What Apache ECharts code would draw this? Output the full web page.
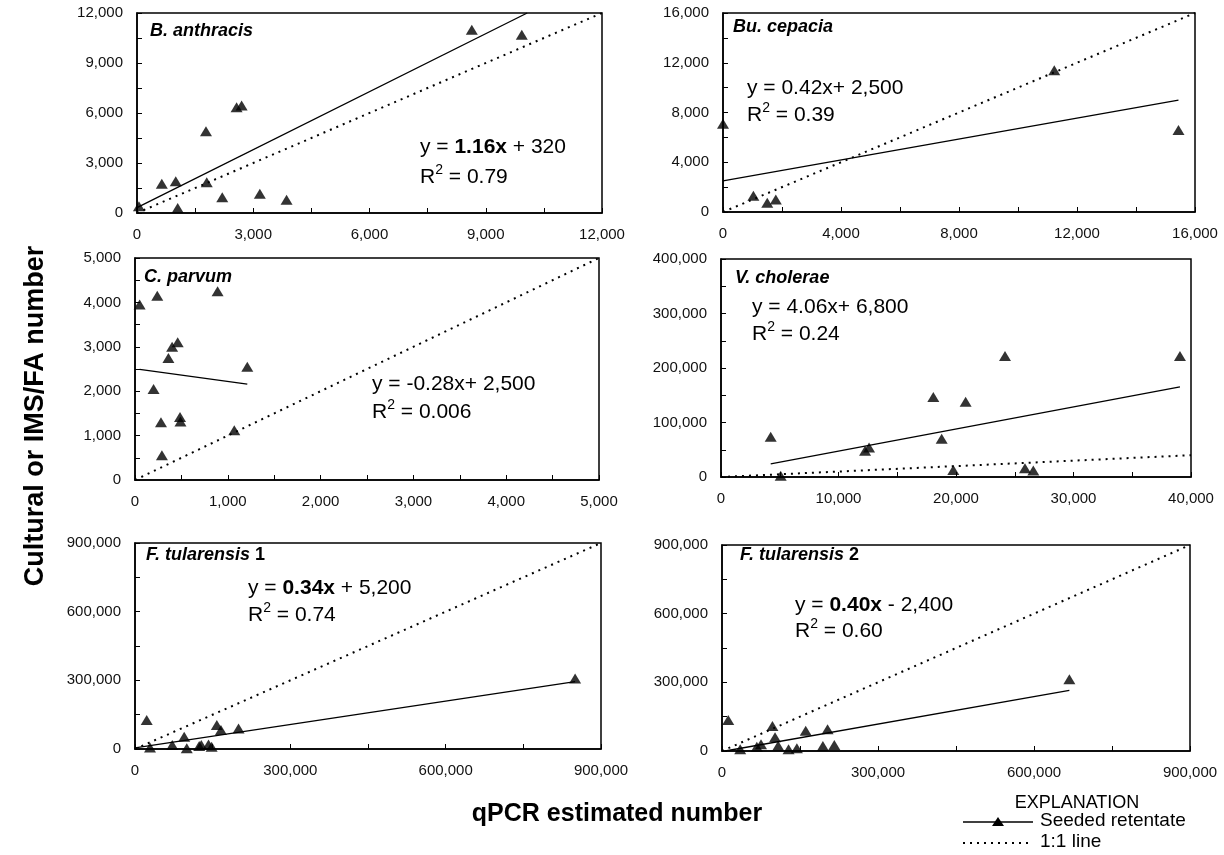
<!DOCTYPE html>
<html><head><meta charset="utf-8">
<script src="https://cdn.jsdelivr.net/npm/echarts@6/dist/echarts.min.js"></script>
<style>html,body{margin:0;padding:0;background:#fff}#c{width:1224px;height:855px}</style>
</head><body><div id="c"></div>
<script>
// ---- data ----
const anthracisPts = [[50,400],[640,1750],[1000,1900],[1050,300],[1780,4900],[1800,1850],[2200,950],[2570,6350],[2700,6450],[3170,1150],[3860,800],[8640,11000],[9930,10700]];
const anthracisFit = [[0,320],[10070,12000]];
const cepaciaPts = [[0,7100],[1030,1300],[1500,750],[1790,1000],[11230,11400],[15440,6600]];
const cepaciaFit = [[0,2500],[15440,8990]];
const parvumPts = [[50,3950],[240,4150],[890,4250],[460,3100],[400,3000],[360,2750],[1210,2550],[200,2050],[280,1300],[485,1420],[490,1320],[1070,1120],[290,560]];
const parvumFit = [[50,2490],[1210,2160]];
const choleraePts = [[4230,74000],[5080,2400],[12260,48000],[12600,54000],[18070,147000],[18780,70000],[19770,13000],[20820,138000],[24170,222000],[25870,16000],[26580,12000],[39060,222000]];
const choleraeFit = [[4230,24000],[39060,165400]];
const tul1Pts = [[22600,127000],[29000,7000],[72000,18000],[95000,54000],[100000,3000],[124000,13000],[128000,17000],[142000,20000],[148000,10000],[158000,105000],[166000,83000],[200000,90000],[850000,308000]];
const tul1Fit = [[0,5200],[850000,294200]];
const tul2Pts = [[12000,135000],[35000,8000],[67000,19000],[75000,30000],[97000,109000],[102000,60000],[108000,23000],[128000,8000],[144000,12000],[161000,89000],[194000,22000],[203000,95000],[216000,26000],[668000,313000]];
const tul2Fit = [[6000,0],[668000,264800]];

const panelNames = ['B. anthracis','Bu. cepacia','C. parvum','V. cholerae','F. tularensis','F. tularensis'];
const panelSuffix = ['','','','',' 1',' 2'];
const xMax  = [12000, 16000, 5000, 40000, 900000, 900000];
const xStep = [3000, 4000, 1000, 10000, 300000, 300000];
const yMax  = [12000, 16000, 5000, 400000, 900000, 900000];
const yStep = [3000, 4000, 1000, 100000, 300000, 300000];
const oneToOneEnd = [12000, 16000, 5000, 40000, 900000, 900000];
const eqSlope = ['1.16x','0.42x','-0.28x','4.06x','0.34x','0.40x'];
const eqSlopeBold = [true,false,false,false,true,true];
const eqRest = [' + 320','+ 2,500','+ 2,500','+ 6,800',' + 5,200',' - 2,400'];
const eqR2 = ['0.79','0.39','0.006','0.24','0.74','0.60'];

const allPts = [anthracisPts, cepaciaPts, parvumPts, choleraePts, tul1Pts, tul2Pts];
const allFits = [anthracisFit, cepaciaFit, parvumFit, choleraeFit, tul1Fit, tul2Fit];

// ---- layout ----
const FONT = '"Liberation Sans", Arial, sans-serif';
const grids = [
  {left:137, top:13, width:465, height:200},
  {left:723, top:13, width:472, height:199},
  {left:135, top:258, width:464, height:222},
  {left:721, top:259, width:470, height:218},
  {left:135, top:543, width:466, height:206},
  {left:722, top:545, width:468, height:206}
];
const titlePos = [[150,31],[733,27],[144,277],[735,278],[146,555],[740,555]];
const eqPos = [[420,147,177],[747,88,115],[372,384,412],[752,307,334],[248,588,615],[795,605,631]];

const fmt = v => v.toLocaleString('en-US');
function axisCommon(i, max, step) {
  return {
    gridIndex: i, type: 'value', min: 0, max: max, interval: step,
    axisLine: {show: true, onZero: false, lineStyle: {color: '#000', width: 1.5}},
    axisTick: {show: true, inside: true, length: 5, lineStyle: {color: '#000', width: 1}},
    minorTick: {show: true, splitNumber: 2, length: 5, lineStyle: {color: '#000', width: 1}},
    splitLine: {show: false},
    axisLabel: {margin: 14, color: '#111', fontSize: 15, fontFamily: FONT, formatter: fmt}
  };
}

const xAxes = [], yAxes = [], series = [], graphics = [];
for (let i = 0; i < 6; i++) {
  xAxes.push(axisCommon(i, xMax[i], xStep[i]));
  yAxes.push(axisCommon(i, yMax[i], yStep[i]));
  series.push({type: 'line', xAxisIndex: i, yAxisIndex: i, data: [[0,0],[oneToOneEnd[i], oneToOneEnd[i]]],
    symbol: 'none', silent: true, lineStyle: {color: '#000', width: 2, type: [2, 5]}, z: 2});
  series.push({type: 'line', xAxisIndex: i, yAxisIndex: i, data: allFits[i],
    symbol: 'none', silent: true, lineStyle: {color: '#000', width: 1.3}, z: 3});
  series.push({type: 'scatter', xAxisIndex: i, yAxisIndex: i, data: allPts[i],
    symbol: 'triangle', symbolSize: [12, 10], itemStyle: {color: '#000'}, z: 4});

  graphics.push({type: 'text', x: titlePos[i][0], y: titlePos[i][1], z: 10,
    style: {text: '{i|' + panelNames[i] + '}' + (panelSuffix[i] ? '{b|' + panelSuffix[i] + '}' : ''),
      verticalAlign: 'middle', fill: '#000',
      rich: {i: {fontFamily: FONT, fontSize: 18, fontWeight: 'bold', fontStyle: 'italic', fill: '#000'},
             b: {fontFamily: FONT, fontSize: 18, fontWeight: 'bold', fill: '#000'}}}});
  const slopeTok = eqSlopeBold[i] ? '{b|' + eqSlope[i] + '}' : '{n|' + eqSlope[i] + '}';
  graphics.push({type: 'text', x: eqPos[i][0], y: eqPos[i][1], z: 10,
    style: {text: '{n|y = }' + slopeTok + '{n|' + eqRest[i] + '}', verticalAlign: 'middle', fill: '#000',
      rich: {n: {fontFamily: FONT, fontSize: 21, fill: '#000'},
             b: {fontFamily: FONT, fontSize: 21, fontWeight: 'bold', fill: '#000'}}}});
  graphics.push({type: 'text', x: eqPos[i][0], y: eqPos[i][2], z: 10,
    style: {text: '{n|R}{s|2}{n| = ' + eqR2[i] + '}', verticalAlign: 'middle', fill: '#000',
      rich: {n: {fontFamily: FONT, fontSize: 21, lineHeight: 28, fill: '#000'},
             s: {fontFamily: FONT, fontSize: 14, verticalAlign: 'top', fill: '#000'}}}});
}

// axis titles
graphics.push({type: 'text', x: 36, y: 416, rotation: Math.PI / 2, z: 10,
  style: {text: 'Cultural or IMS/FA number', align: 'center', verticalAlign: 'middle',
    fontFamily: FONT, fontSize: 27, fontWeight: 'bold', fill: '#000'}});
graphics.push({type: 'text', x: 617, y: 814, z: 10,
  style: {text: 'qPCR estimated number', align: 'center', verticalAlign: 'middle',
    fontFamily: FONT, fontSize: 25, fontWeight: 'bold', fill: '#000'}});

// explanation (legend)
graphics.push({type: 'text', x: 1077, y: 803, z: 10,
  style: {text: 'EXPLANATION', align: 'center', verticalAlign: 'middle', fontFamily: FONT, fontSize: 18, fill: '#000'}});
graphics.push({type: 'line', z: 10, shape: {x1: 963, y1: 822, x2: 1033, y2: 822}, style: {stroke: '#000', lineWidth: 1.3}});
graphics.push({type: 'polygon', z: 11, shape: {points: [[998, 817], [1004, 826], [992, 826]]}, style: {fill: '#000'}});
graphics.push({type: 'text', x: 1040, y: 821, z: 10,
  style: {text: 'Seeded retentate', verticalAlign: 'middle', fontFamily: FONT, fontSize: 19, fill: '#000'}});
graphics.push({type: 'line', z: 10, shape: {x1: 963, y1: 843, x2: 1031, y2: 843}, style: {stroke: '#000', lineWidth: 2, lineDash: [2, 5]}});
graphics.push({type: 'text', x: 1040, y: 842, z: 10,
  style: {text: '1:1 line', verticalAlign: 'middle', fontFamily: FONT, fontSize: 19, fill: '#000'}});

const chart = echarts.init(document.getElementById('c'), null, {renderer: 'canvas'});
chart.setOption({
  animation: false,
  backgroundColor: '#fff',
  textStyle: {fontFamily: FONT},
  grid: grids.map(g => Object.assign({show: true, borderColor: '#000', borderWidth: 1.5, backgroundColor: 'transparent'}, g)),
  xAxis: xAxes,
  yAxis: yAxes,
  series: series,
  graphic: graphics
});
</script></body></html>
